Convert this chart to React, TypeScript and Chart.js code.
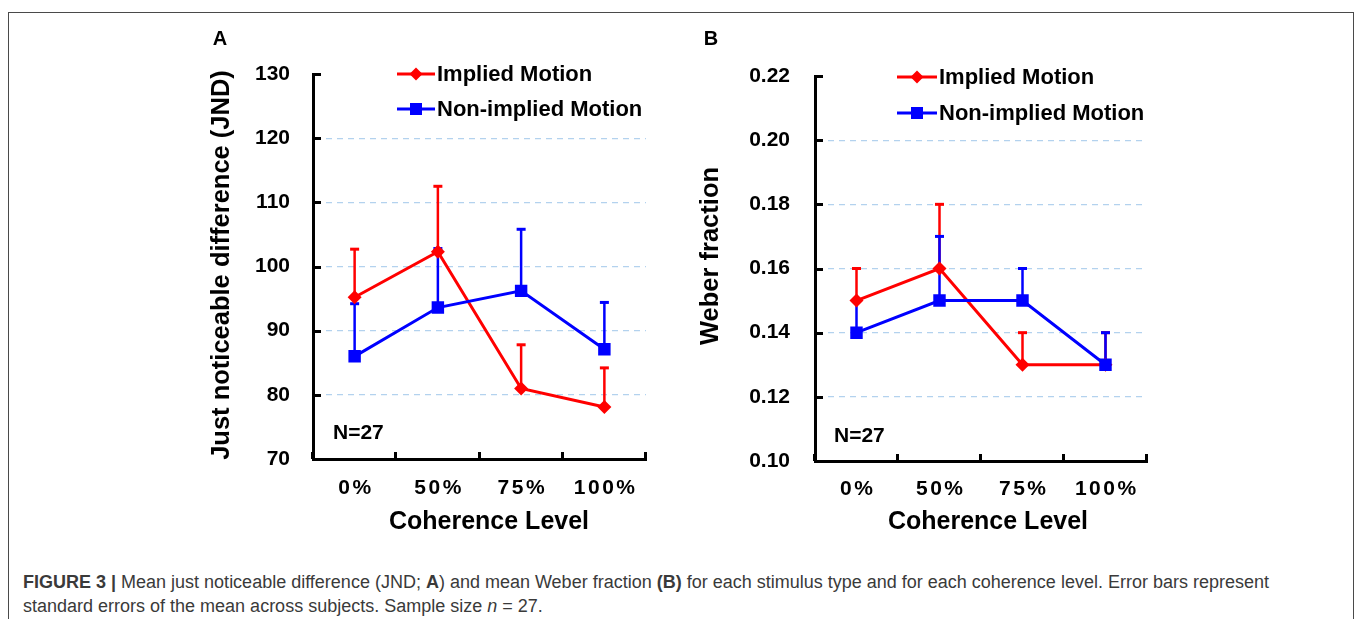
import React, { useEffect, useRef } from 'react';
import { Chart, registerables } from 'chart.js';

Chart.register(...registerables);

// ---------------- data ----------------
const categories = ['0%', '50%', '75%', '100%'];
const seriesLabels = ['Implied Motion', 'Non-implied Motion'];

const jndImplied = [95.2, 102.3, 81.0, 78.1];
const jndImpliedSE = [7.5, 10.2, 6.8, 6.1];
const jndNonImplied = [86.0, 93.6, 96.2, 87.1];
const jndNonImpliedSE = [8.2, 9.2, 9.6, 7.3];

const weberImplied = [0.15, 0.16, 0.13, 0.13];
const weberImpliedSE = [0.01, 0.02, 0.01, 0.01];
const weberNonImplied = [0.14, 0.15, 0.15, 0.13];
const weberNonImpliedSE = [0.01, 0.02, 0.01, 0.01];

const jndTicks = [70, 80, 90, 100, 110, 120, 130];
const weberTicks = [0.1, 0.12, 0.14, 0.16, 0.18, 0.2, 0.22];

const FONT = "'Liberation Sans', Arial, Helvetica, sans-serif";
const RED = '#ff0000';
const BLUE = '#0000ff';
const GRID = '#b3d2ee';

type PanelCfg = {
  letter: string;
  yTitle: string;
  xTitle: string;
  ticks: number[];
  decimals: number;
  implied: number[];
  impliedSE: number[];
  non: number[];
  nonSE: number[];
  canvasLeft: number;
  yAxisWidth: number;
  padRight: number;
  padTop: number;
  xAxisHeight: number;
  yTickPad: number;
  legend: { x1: number; x2: number; tx: number; y1: number; y2: number };
  letterPos: { x: number; y: number };
  nPos: { x: number; y: number };
  xLabelY: number;
  xTitlePos: { x: number; y: number };
  yTitlePos: { x: number; y: number };
};

const CANVAS_W = 480;
const CANVAS_H = 545;

const panelA: PanelCfg = {
  letter: 'A',
  yTitle: 'Just noticeable difference (JND)',
  xTitle: 'Coherence Level',
  ticks: jndTicks,
  decimals: 0,
  implied: jndImplied,
  impliedSE: jndImpliedSE,
  non: jndNonImplied,
  nonSE: jndNonImpliedSE,
  canvasLeft: 190,
  yAxisWidth: 123,
  padRight: 24,
  padTop: 74,
  xAxisHeight: 86,
  yTickPad: 23,
  legend: { x1: 207, x2: 245, tx: 247, y1: 74, y2: 109 },
  letterPos: { x: 30, y: 38 },
  nPos: { x: 143, y: 433 },
  xLabelY: 488,
  xTitlePos: { x: 299, y: 522 },
  yTitlePos: { x: 32, y: 265 },
};

const panelB: PanelCfg = {
  letter: 'B',
  yTitle: 'Weber fraction',
  xTitle: 'Coherence Level',
  ticks: weberTicks,
  decimals: 2,
  implied: weberImplied,
  impliedSE: weberImpliedSE,
  non: weberNonImplied,
  nonSE: weberNonImpliedSE,
  canvasLeft: 690,
  yAxisWidth: 125,
  padRight: 23,
  padTop: 76,
  xAxisHeight: 84,
  yTickPad: 25,
  legend: { x1: 207, x2: 247, tx: 249, y1: 77, y2: 113 },
  letterPos: { x: 21, y: 38 },
  nPos: { x: 144, y: 436 },
  xLabelY: 489,
  xTitlePos: { x: 298, y: 522 },
  yTitlePos: { x: 21, y: 256 },
};

// error bars (upper only, with cap), drawn below the lines
const errorBarPlugin = {
  id: 'errorBars',
  beforeDatasetsDraw(chart: any) {
    const ctx = chart.ctx;
    const y = chart.scales.y;
    const idxs = chart.data.datasets.map((_: any, i: number) => i);
    idxs.sort((a: number, b: number) => (chart.data.datasets[b].order ?? 0) - (chart.data.datasets[a].order ?? 0));
    idxs.forEach((di: number) => {
      const ds = chart.data.datasets[di];
      const meta = chart.getDatasetMeta(di);
      meta.data.forEach((pt: any, i: number) => {
        const v = ds.data[i];
        const topPx = y.getPixelForValue(v + ds.errUp[i]);
        ctx.save();
        ctx.strokeStyle = ds.borderColor;
        ctx.lineWidth = 2.5;
        ctx.beginPath();
        ctx.moveTo(pt.x, pt.y);
        ctx.lineTo(pt.x, topPx);
        ctx.stroke();
        ctx.lineWidth = 3;
        ctx.beginPath();
        ctx.moveTo(pt.x - 4.5, topPx);
        ctx.lineTo(pt.x + 4.5, topPx);
        ctx.stroke();
        ctx.restore();
      });
    });
  },
};

// inward tick marks, x tick labels, titles, legend, panel letter, N label
const decorPlugin = {
  id: 'decor',
  afterDraw(chart: any, _args: any, opts: any) {
    const cfg: PanelCfg = opts.cfg;
    const ctx = chart.ctx;
    const x = chart.scales.x;
    const y = chart.scales.y;
    const area = chart.chartArea;
    ctx.save();
    ctx.strokeStyle = '#000';
    ctx.lineWidth = 3;
    // y ticks pointing right
    y.ticks.forEach((t: any) => {
      const py = Math.round(y.getPixelForValue(t.value)) + 0.5;
      ctx.beginPath();
      ctx.moveTo(area.left, py);
      ctx.lineTo(area.left + 8, py);
      ctx.stroke();
    });
    // x ticks pointing up at category boundaries
    for (let i = 0; i <= categories.length; i++) {
      const px = Math.round(x.getPixelForValue(i - 0.5)) - 0.5;
      ctx.beginPath();
      ctx.moveTo(px, area.bottom);
      ctx.lineTo(px, area.bottom - 7);
      ctx.stroke();
    }
    // x tick labels with letter spacing
    ctx.fillStyle = '#000';
    ctx.font = `bold 21px ${FONT}`;
    (ctx as any).letterSpacing = '2.5px';
    ctx.textAlign = 'center';
    ctx.textBaseline = 'middle';
    x.ticks.forEach((_t: any, i: number) => {
      const px = x.getPixelForTick(i);
      ctx.fillText(chart.data.labels[i], px + 1.25, cfg.xLabelY);
    });
    (ctx as any).letterSpacing = '0px';

    // axis titles
    ctx.font = `bold 25px ${FONT}`;
    ctx.textAlign = 'center';
    ctx.textBaseline = 'middle';
    ctx.fillText(cfg.xTitle, cfg.xTitlePos.x, cfg.xTitlePos.y);
    ctx.save();
    ctx.translate(cfg.yTitlePos.x, cfg.yTitlePos.y);
    ctx.rotate(-Math.PI / 2);
    ctx.font = `bold 25.5px ${FONT}`;
    ctx.fillText(cfg.yTitle, 0, 0);
    ctx.restore();

    // legend
    const lg = cfg.legend;
    const rows = [
      { y: lg.y1, ds: chart.data.datasets[0] },
      { y: lg.y2, ds: chart.data.datasets[1] },
    ];
    rows.forEach((r) => {
      ctx.strokeStyle = r.ds.borderColor;
      ctx.lineWidth = 3;
      ctx.beginPath();
      ctx.moveTo(lg.x1, r.y);
      ctx.lineTo(lg.x2, r.y);
      ctx.stroke();
      const cx = (lg.x1 + lg.x2) / 2;
      ctx.fillStyle = r.ds.backgroundColor;
      if (r.ds.pointStyle === 'rect') {
        ctx.fillRect(cx - 6, r.y - 6, 12, 12);
      } else {
        ctx.beginPath();
        ctx.moveTo(cx, r.y - 6.5);
        ctx.lineTo(cx + 6.5, r.y);
        ctx.lineTo(cx, r.y + 6.5);
        ctx.lineTo(cx - 6.5, r.y);
        ctx.closePath();
        ctx.fill();
      }
      ctx.fillStyle = '#000';
      ctx.font = `bold 22px ${FONT}`;
      ctx.textAlign = 'left';
      ctx.textBaseline = 'middle';
      ctx.fillText(r.ds.label, lg.tx, r.y + 1);
    });

    // panel letter
    ctx.font = `bold 20px ${FONT}`;
    ctx.textAlign = 'center';
    ctx.fillText(cfg.letter, cfg.letterPos.x, cfg.letterPos.y + 1);
    // N label
    ctx.font = `bold 21px ${FONT}`;
    ctx.textAlign = 'left';
    ctx.fillText('N=27', cfg.nPos.x, cfg.nPos.y);
    ctx.restore();
  },
};

function Panel({ cfg }: { cfg: PanelCfg }) {
  const ref = useRef<HTMLCanvasElement | null>(null);
  useEffect(() => {
    if (!ref.current) return;
    const last = cfg.ticks.length - 1;
    const chart = new Chart(ref.current, {
      type: 'line',
      data: {
        labels: categories,
        datasets: [
          {
            label: seriesLabels[0],
            data: cfg.implied,
            errUp: cfg.impliedSE,
            borderColor: RED,
            backgroundColor: RED,
            borderWidth: 3,
            pointStyle: 'rectRot',
            pointRadius: 7,
            pointBorderWidth: 0,
            pointBackgroundColor: RED,
            tension: 0,
            order: 1,
          } as any,
          {
            label: seriesLabels[1],
            data: cfg.non,
            errUp: cfg.nonSE,
            borderColor: BLUE,
            backgroundColor: BLUE,
            borderWidth: 3,
            pointStyle: 'rect',
            pointRadius: 8.8,
            pointBorderWidth: 0,
            pointBackgroundColor: BLUE,
            tension: 0,
            order: 0,
          } as any,
        ],
      },
      options: {
        responsive: false,
        animation: false,
        events: [],
        layout: { padding: { top: cfg.padTop, right: cfg.padRight, left: 0, bottom: 0 } },
        plugins: {
          legend: { display: false },
          tooltip: { enabled: false },
          decor: { cfg },
        } as any,
        scales: {
          x: {
            type: 'category',
            offset: true,
            grid: { display: false, drawTicks: false },
            border: { display: true, color: '#000', width: 3 },
            ticks: { display: false },
            title: { display: false },
            afterFit: (s: any) => {
              s.height = cfg.xAxisHeight;
            },
          },
          y: {
            type: 'linear',
            min: cfg.ticks[0],
            max: cfg.ticks[last],
            afterBuildTicks: (s: any) => {
              s.ticks = cfg.ticks.map((v) => ({ value: v }));
            },
            grid: {
              drawTicks: false,
              lineWidth: 1.2,
              color: (c: any) => (c.index === 0 || c.index === last ? 'rgba(0,0,0,0)' : GRID),
            },
            border: { display: true, color: '#000', width: 3, dash: [6, 5] },
            ticks: {
              color: '#000',
              padding: cfg.yTickPad,
              font: { family: FONT, size: 21, weight: 'bold' },
              callback: (v: any) => Number(v).toFixed(cfg.decimals),
            },
            title: { display: false },
            afterFit: (s: any) => {
              s.width = cfg.yAxisWidth;
            },
          },
        },
      } as any,
      plugins: [errorBarPlugin, decorPlugin],
    });
    return () => chart.destroy();
  }, [cfg]);
  return (
    <div style={{ position: 'absolute', left: cfg.canvasLeft, top: 0, width: CANVAS_W, height: CANVAS_H }}>
      <canvas ref={ref} width={CANVAS_W} height={CANVAS_H} style={{ display: 'block' }} />
    </div>
  );
}

export default function App() {
  return (
    <div
      style={{
        position: 'fixed',
        left: 0,
        top: 0,
        width: 1360,
        height: 619,
        background: '#fff',
        overflow: 'hidden',
      }}
    >
      <div
        style={{
          position: 'absolute',
          left: 8,
          top: 12,
          width: 1346,
          height: 700,
          boxSizing: 'border-box',
          border: '1px solid #4a4a4a',
        }}
      />
      <Panel cfg={panelA} />
      <Panel cfg={panelB} />
      <div
        style={{
          position: 'absolute',
          left: 23,
          top: 570,
          fontFamily: FONT,
          fontSize: 18,
          lineHeight: '24px',
          color: '#3a3a3a',
          whiteSpace: 'nowrap',
        }}
      >
        <b>FIGURE 3 |</b> Mean just noticeable difference (JND; <b>A</b>) and mean Weber fraction <b>(B)</b> for each
        stimulus type and for each coherence level. Error bars represent
        <br />
        standard errors of the mean across subjects. Sample size <i>n</i> = 27.
      </div>
    </div>
  );
}
